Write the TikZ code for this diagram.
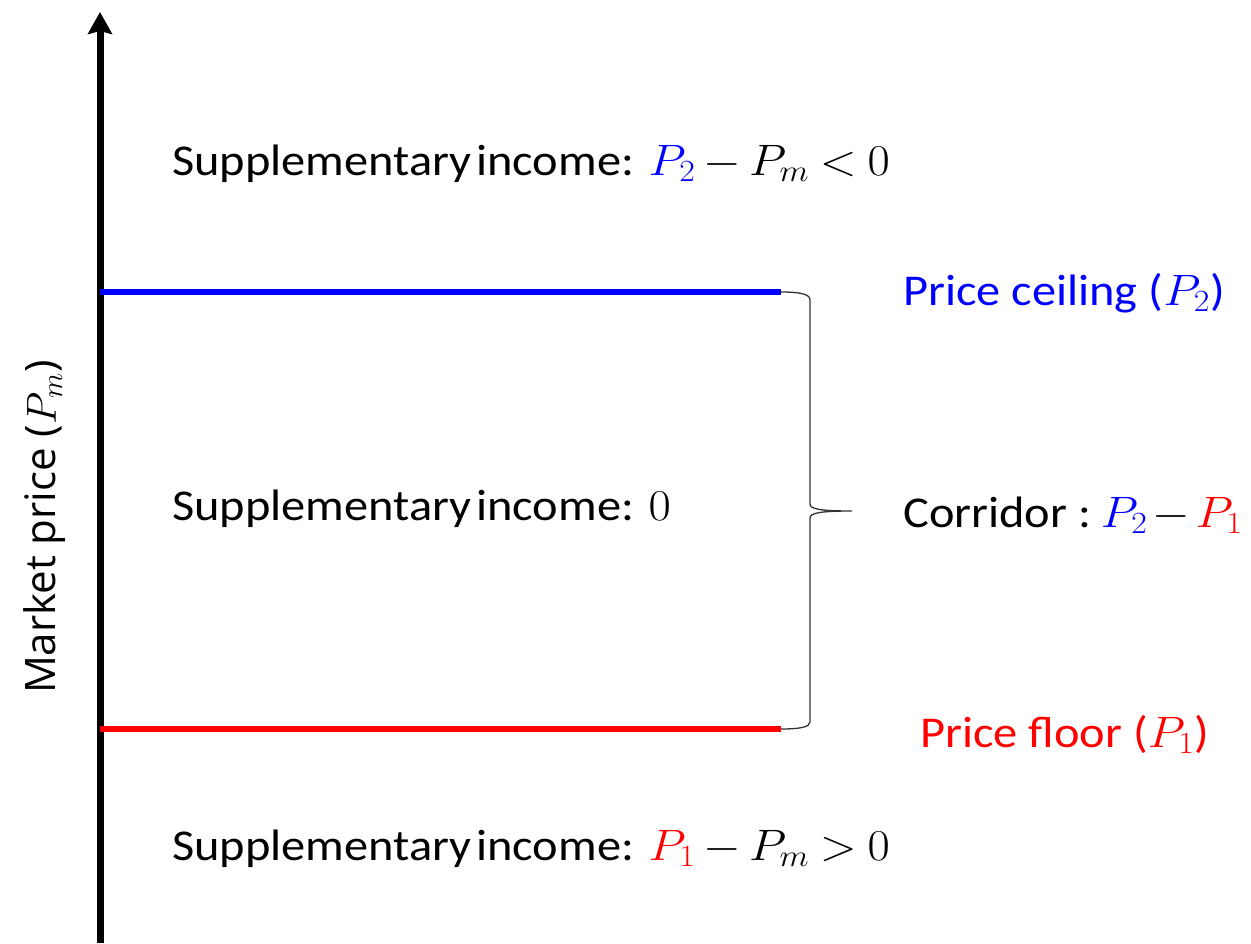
\RequirePackage{fix-cm}
\documentclass[tikz,border=0pt]{standalone}
\usepackage{fontspec}
\setmainfont{Carlito}
\newfontfamily\axisfont{Open Sans}
\usetikzlibrary{arrows.meta}
\definecolor{cblue}{RGB}{0,0,255}
\definecolor{cred}{RGB}{255,0,0}
\newcommand\wide[1]{\scalebox{1.1}[1]{#1}}
\newcommand\tsp{\hspace{0.1em}}
\medmuskip=3mu
\thickmuskip=4mu
\begin{document}
\begin{tikzpicture}[x=1pt,y=-1pt,
  lbl/.style={inner sep=0pt,font=\fontsize{44}{52}\selectfont},
  levelline/.style={line width=6.5pt}]
\useasboundingbox (0,0) rectangle (1251,943);
\coordinate (axbot) at (100,943);
\coordinate (axtop) at (100,12);
\draw[line width=7pt,-{Stealth[width=24pt,length=22pt,inset=3pt]}] (axbot) -- (axtop);
\node[lbl,rotate=90,font=\fontsize{42}{50}\selectfont\axisfont] (axlbl) at (45,527) {Market price ($P_m$)};
% lines
\coordinate (c0) at (100,292);
\coordinate (c1) at (781,292);
\coordinate (f0) at (100,729);
\coordinate (f1) at (781,729);
\draw[levelline,cblue] (c0) -- (c1);
\draw[levelline,cred] (f0) -- (f1);
% brace
\coordinate (tip) at (852,511);
\draw[line width=1.3pt,black!80] (c1) .. controls (800,292) and (810,294) .. (810,300)
  -- (810,504) .. controls (810,509) and (820,511) .. (tip)
  .. controls (820,511) and (810,513) .. (810,518)
  -- (810,722) .. controls (810,727) and (800,729) .. (f1);
% texts
\node[lbl,anchor=base west] (t1) at (172,175) {\wide{Supplementary\tsp income: $\color{cblue}P_2\color{black}-P_m<0$}};
\node[lbl,anchor=base west] (t2) at (172,520) {\wide{Supplementary\tsp income: $0$}};
\node[lbl,anchor=base west] (t3) at (172,860) {\wide{Supplementary\tsp income: $\color{cred}P_1\color{black}-P_m>0$}};
\node[lbl,anchor=base west,text=cblue] (ceil) at (903,305) {\wide{Price ceiling ($P_2$)}};
\node[lbl,anchor=base west] (corr) at (903,527) {\wide{Corridor :\hspace{0.2em}$\medmuskip=2mu\color{cblue}P_2\color{black}-\color{cred}P_1$}};
\node[lbl,anchor=base west,text=cred] (floor) at (920,747) {\wide{Price floor ($P_1$)}};
\end{tikzpicture}
\end{document}
